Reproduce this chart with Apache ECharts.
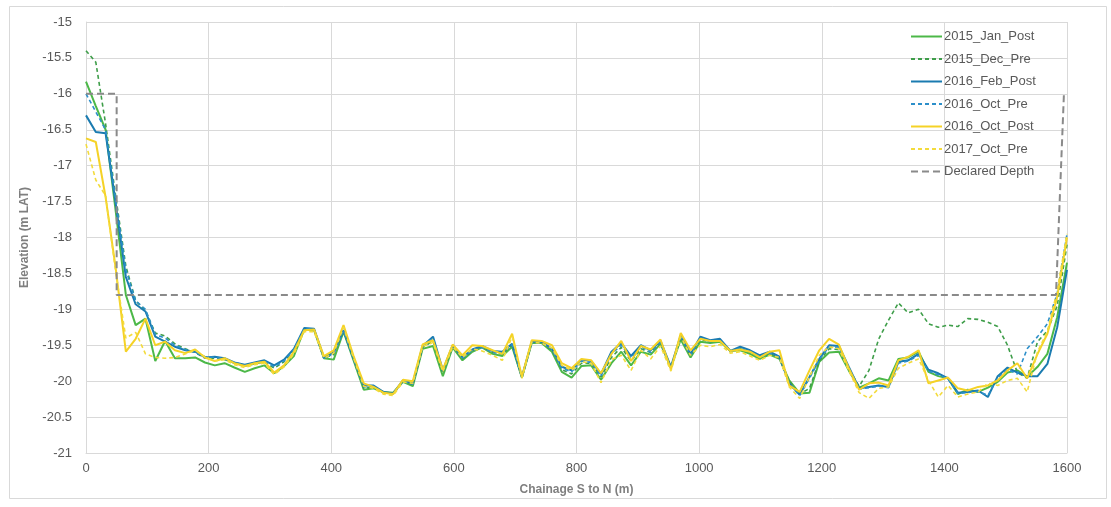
<!DOCTYPE html>
<html>
<head>
<meta charset="utf-8">
<script src="https://cdn.jsdelivr.net/npm/echarts@6/dist/echarts.min.js"></script>
<style>
  html, body { margin: 0; padding: 0; background: #ffffff; }
  #chart { width: 1111px; height: 507px; }
</style>
</head>
<body>
<div id="chart"></div>
<script>
// Survey chainage along the channel, S to N (m)
const chainage = [0, 16, 32, 48, 65, 81, 97, 113, 129, 145, 162, 178, 194, 210, 226, 242, 259, 275, 291, 307,
  323, 339, 356, 372, 388, 404, 420, 436, 453, 469, 485, 501, 517, 533, 549, 566, 582, 598, 614, 630,
  646, 663, 679, 695, 711, 727, 743, 760, 776, 792, 808, 824, 840, 857, 873, 889, 905, 921, 937, 954,
  970, 986, 1002, 1018, 1034, 1051, 1067, 1083, 1099, 1115, 1131, 1147, 1164, 1180, 1196, 1212, 1228, 1244, 1261, 1277,
  1293, 1309, 1325, 1341, 1358, 1374, 1390, 1406, 1422, 1438, 1455, 1471, 1487, 1503, 1519, 1535, 1552, 1568, 1584, 1600];

// Bed elevations per survey (m LAT)
const jan2015Post = [-15.83, -16.17, -16.5, -17.6, -18.8, -19.22, -19.13, -19.72, -19.44, -19.68,
  -19.68, -19.67, -19.74, -19.78, -19.75, -19.81, -19.87, -19.82, -19.78, -19.89,
  -19.79, -19.65, -19.28, -19.29, -19.68, -19.7, -19.31, -19.7, -20.12, -20.1,
  -20.15, -20.16, -20.01, -20.07, -19.55, -19.51, -19.93, -19.53, -19.71, -19.59,
  -19.53, -19.62, -19.65, -19.52, -19.95, -19.47, -19.47, -19.59, -19.87, -19.95,
  -19.79, -19.78, -19.98, -19.75, -19.59, -19.78, -19.59, -19.63, -19.48, -19.81,
  -19.42, -19.67, -19.45, -19.47, -19.45, -19.58, -19.57, -19.62, -19.69, -19.63,
  -19.69, -19.99, -20.17, -20.16, -19.73, -19.6, -19.59, -19.85, -20.09, -20.03,
  -19.96, -19.99, -19.69, -19.67, -19.59, -19.87, -19.93, -19.96, -20.18, -20.12,
  -20.15, -20.09, -20.01, -19.88, -19.85, -19.94, -19.8, -19.62, -19.11, -18.35];

const dec2015Pre = [-15.4, -15.56, -16.42, -17.4, -18.4, -18.88, -19.02, -19.33, -19.37, -19.48,
  -19.55, -19.6, -19.68, -19.68, -19.7, -19.75, -19.79, -19.76, -19.73, -19.82,
  -19.73, -19.57, -19.27, -19.28, -19.68, -19.63, -19.3, -19.69, -20.1, -20.08,
  -20.16, -20.17, -20.0, -20.05, -19.53, -19.44, -19.89, -19.52, -19.69, -19.58,
  -19.52, -19.6, -19.62, -19.5, -19.95, -19.46, -19.46, -19.57, -19.84, -19.9,
  -19.75, -19.75, -19.94, -19.67, -19.53, -19.72, -19.55, -19.6, -19.46, -19.81,
  -19.39, -19.65, -19.42, -19.45, -19.43, -19.58, -19.55, -19.6, -19.67, -19.61,
  -19.68, -20.0, -20.18, -20.1, -19.72, -19.55, -19.56, -19.83, -20.07, -19.85,
  -19.41, -19.15, -18.91, -19.05, -19.0, -19.2, -19.25, -19.22, -19.24, -19.13,
  -19.14, -19.18, -19.24, -19.5, -19.88, -19.96, -19.45, -19.3, -18.95, -18.1];

const feb2016Post = [-16.3, -16.53, -16.55, -17.5, -18.55, -18.93, -19.03, -19.38, -19.45, -19.52,
  -19.57, -19.59, -19.67, -19.66, -19.68, -19.74, -19.77, -19.74, -19.71, -19.78,
  -19.7, -19.55, -19.26, -19.27, -19.67, -19.6, -19.29, -19.67, -20.06, -20.06,
  -20.15, -20.17, -19.99, -20.03, -19.51, -19.38, -19.85, -19.5, -19.67, -19.56,
  -19.51, -19.58, -19.59, -19.48, -19.94, -19.45, -19.45, -19.55, -19.8, -19.85,
  -19.7, -19.72, -19.9, -19.59, -19.47, -19.65, -19.5, -19.57, -19.44, -19.8,
  -19.36, -19.62, -19.38, -19.43, -19.41, -19.58, -19.52, -19.57, -19.64, -19.59,
  -19.66, -20.03, -20.19, -19.94, -19.69, -19.5, -19.51, -19.8, -20.1, -20.08,
  -20.06, -20.08, -19.73, -19.71, -19.62, -19.84, -19.89, -19.96, -20.16, -20.15,
  -20.13, -20.22, -19.93, -19.81, -19.88, -19.93, -19.93, -19.76, -19.25, -18.45];

const oct2016Pre = [-16.0, -16.25, -16.5, -17.45, -18.45, -18.88, -19.0, -19.35, -19.4, -19.5,
  -19.56, -19.6, -19.66, -19.67, -19.69, -19.74, -19.78, -19.75, -19.72, -19.8,
  -19.72, -19.56, -19.27, -19.28, -19.68, -19.62, -19.3, -19.68, -20.08, -20.07,
  -20.16, -20.18, -20.0, -20.04, -19.52, -19.4, -19.87, -19.51, -19.68, -19.57,
  -19.53, -19.6, -19.61, -19.49, -19.95, -19.46, -19.46, -19.56, -19.82, -19.87,
  -19.72, -19.74, -19.93, -19.62, -19.5, -19.68, -19.52, -19.6, -19.46, -19.82,
  -19.38, -19.64, -19.4, -19.45, -19.43, -19.59, -19.54, -19.59, -19.66, -19.61,
  -19.67, -20.04, -20.2, -19.96, -19.7, -19.52, -19.53, -19.82, -20.11, -20.09,
  -20.07, -20.09, -19.75, -19.72, -19.64, -19.86, -19.91, -19.97, -20.17, -20.16,
  -20.14, -20.2, -19.95, -19.84, -19.9, -19.55, -19.38, -19.2, -18.78, -17.95];

const oct2016Post = [-16.62, -16.67, -17.44, -18.4, -19.59, -19.41, -19.13, -19.5, -19.45, -19.57,
  -19.61, -19.56, -19.67, -19.72, -19.68, -19.75, -19.79, -19.75, -19.73, -19.88,
  -19.78, -19.59, -19.29, -19.28, -19.65, -19.57, -19.22, -19.64, -20.03, -20.08,
  -20.16, -20.18, -19.98, -20.0, -19.49, -19.43, -19.84, -19.49, -19.64, -19.5,
  -19.51, -19.57, -19.62, -19.34, -19.94, -19.43, -19.44, -19.5, -19.75, -19.82,
  -19.69, -19.71, -19.89, -19.62, -19.44, -19.72, -19.51, -19.56, -19.42, -19.84,
  -19.33, -19.57, -19.41, -19.44, -19.44, -19.58, -19.56, -19.59, -19.67, -19.59,
  -19.57, -20.06, -20.15, -19.85, -19.57, -19.41, -19.49, -19.82, -20.12, -20.03,
  -20.02, -20.06, -19.71, -19.66, -19.57, -20.03, -19.99, -19.95, -20.1, -20.13,
  -20.08, -20.06, -19.99, -19.85, -19.75, -19.96, -19.62, -19.34, -18.83, -18.0];

const oct2017Pre = [-16.7, -17.2, -17.42, -18.45, -19.4, -19.32, -19.62, -19.67, -19.68, -19.67,
  -19.62, -19.57, -19.66, -19.72, -19.7, -19.77, -19.81, -19.77, -19.75, -19.91,
  -19.8, -19.62, -19.31, -19.31, -19.68, -19.61, -19.25, -19.67, -20.07, -20.1,
  -20.18, -20.2, -20.01, -20.03, -19.52, -19.46, -19.87, -19.52, -19.67, -19.55,
  -19.58, -19.64, -19.71, -19.38, -19.96, -19.46, -19.47, -19.54, -19.78, -19.85,
  -19.73, -19.75, -20.02, -19.7, -19.64, -19.85, -19.57, -19.69, -19.51, -19.86,
  -19.38, -19.64, -19.5, -19.52, -19.49, -19.61, -19.59, -19.65, -19.71, -19.64,
  -19.67, -20.08, -20.24, -19.94, -19.64, -19.52, -19.55, -19.85, -20.16, -20.24,
  -20.1, -20.08, -19.82, -19.75, -19.69, -19.99, -20.22, -20.06, -20.22, -20.18,
  -20.15, -20.03, -20.06, -19.99, -19.96, -20.15, -19.59, -19.31, -18.74, -17.95];

// Declared depth outline: chainage and level
const declaredChainage = [0, 50, 50, 1582, 1595];
const declaredDepth = [-16, -16, -18.8, -18.8, -16];

const seriesNames = ['2015_Jan_Post', '2015_Dec_Pre', '2016_Feb_Post', '2016_Oct_Pre', '2016_Oct_Post', '2017_Oct_Pre', 'Declared Depth'];

function pairs(xs, ys) { return xs.map((x, i) => [x, ys[i]]); }

const textColor = '#595959';
const gridColor = '#d9d9d9';
const fontStack = '"Liberation Sans", Arial, sans-serif';

function lineSeries(name, values, xs, color, type, width) {
  return {
    name: name,
    type: 'line',
    data: pairs(xs, values),
    symbol: 'none',
    showSymbol: false,
    smooth: false,
    animation: false,
    lineStyle: { color: color, width: width, type: type },
    itemStyle: { color: color }
  };
}

const chart = echarts.init(document.getElementById('chart'), null, { renderer: 'canvas' });

chart.setOption({
  backgroundColor: '#ffffff',
  animation: false,
  textStyle: { fontFamily: fontStack },
  graphic: [{
    type: 'rect',
    left: 7, top: 4,
    shape: { width: 1097, height: 492 },
    style: { fill: 'none', stroke: '#d9d9d9', lineWidth: 1 },
    silent: true
  }],
  grid: { left: 86, right: 44, top: 22, bottom: 54, containLabel: false },
  legend: {
    orient: 'vertical',
    left: 905,
    top: 25,
    itemWidth: 31,
    itemHeight: 14,
    itemGap: 9.5,
    itemStyle: { opacity: 0 },
    data: seriesNames,
    textStyle: { color: textColor, fontSize: 13, fontFamily: fontStack, padding: [0, 0, 0, -3] }
  },
  xAxis: {
    type: 'value',
    min: 0, max: 1600, interval: 200,
    name: 'Chainage S to N (m)',
    nameLocation: 'middle',
    nameGap: 31,
    nameTextStyle: { color: '#7f7f7f', fontSize: 12, fontWeight: 'bold' },
    axisLine: { show: true, lineStyle: { color: gridColor } },
    axisTick: { show: false },
    axisLabel: { color: textColor, fontSize: 13, margin: 9, formatter: (v) => String(v) },
    splitLine: { show: true, lineStyle: { color: gridColor, width: 1 } }
  },
  yAxis: {
    type: 'value',
    min: -21, max: -15, interval: 0.5,
    name: 'Elevation (m LAT)',
    nameLocation: 'middle',
    nameGap: 55,
    nameTextStyle: { color: '#7f7f7f', fontSize: 12, fontWeight: 'bold' },
    axisLine: { show: true, lineStyle: { color: gridColor } },
    axisTick: { show: false },
    axisLabel: { color: textColor, fontSize: 13, margin: 14, formatter: (v) => String(v) },
    splitLine: { show: true, lineStyle: { color: gridColor, width: 1 } }
  },
  series: [
    lineSeries(seriesNames[0], jan2015Post, chainage, '#4cb848', 'solid', 2),
    lineSeries(seriesNames[1], dec2015Pre, chainage, '#3f9e4a', [4, 3], 1.6),
    lineSeries(seriesNames[2], feb2016Post, chainage, '#1a7bb0', 'solid', 2),
    lineSeries(seriesNames[3], oct2016Pre, chainage, '#2c8fca', [4, 3], 1.6),
    lineSeries(seriesNames[4], oct2016Post, chainage, '#f5d226', 'solid', 2),
    lineSeries(seriesNames[5], oct2017Pre, chainage, '#f3db3c', [4, 3], 1.6),
    lineSeries(seriesNames[6], declaredDepth, declaredChainage, '#8a8a8a', [7, 4], 2)
  ]
});
</script>
</body>
</html>
